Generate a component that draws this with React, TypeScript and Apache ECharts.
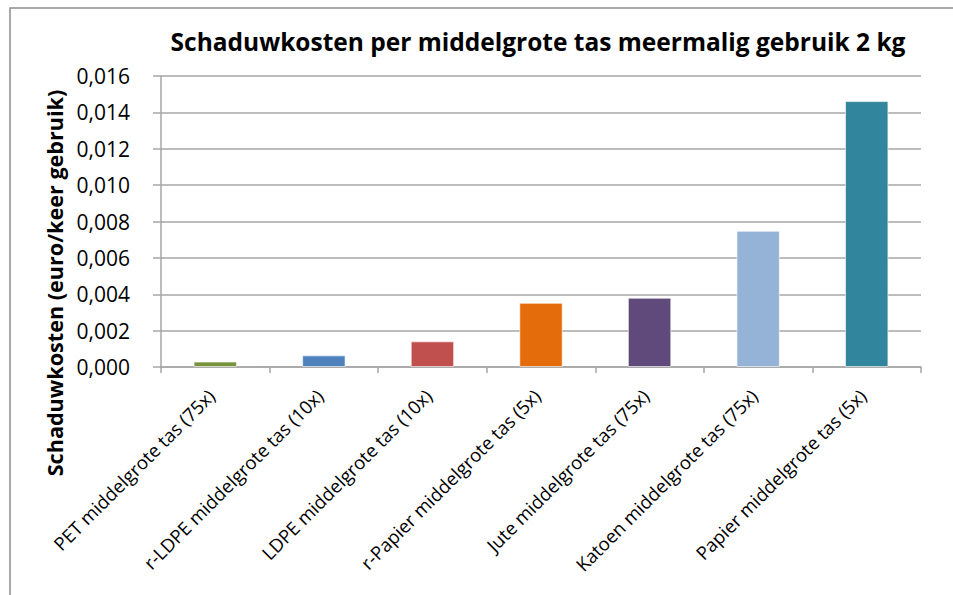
import React, { useEffect, useRef } from "react";
import * as echarts from "echarts";

const TITLE = "Schaduwkosten per middelgrote tas meermalig gebruik 2 kg";
const Y_NAME = "Schaduwkosten (euro/keer gebruik)";
const categories = [
  "PET middelgrote tas (75x)",
  "r-LDPE middelgrote tas (10x)",
  "LDPE middelgrote tas (10x)",
  "r-Papier middelgrote tas (5x)",
  "Jute middelgrote tas (75x)",
  "Katoen middelgrote tas (75x)",
  "Papier middelgrote tas (5x)",
];
const values = [0.0003, 0.00064, 0.00141, 0.00353, 0.00381, 0.00749, 0.01462];
const colors = ["#77933C", "#4F81BD", "#C0504D", "#E46C0A", "#604A7B", "#95B3D7", "#31859C"];
const Y_MIN = 0;
const Y_MAX = 0.016;
const Y_STEP = 0.002;

const FONT = "'Open Sans', sans-serif";

export default function App() {
  const ref = useRef<HTMLDivElement>(null);
  useEffect(() => {
    if (!ref.current) return;
    const chart = echarts.init(ref.current, undefined, { renderer: "svg" });
    chart.setOption({
      animation: false,
      backgroundColor: "#ffffff",
      textStyle: { fontFamily: FONT },
      title: {
        text: TITLE,
        left: 533,
        top: 24,
        textAlign: "center",
        textStyle: { fontFamily: FONT, fontSize: 24.5, fontWeight: "bold", color: "#000" },
      },
      graphic: [
        {
          type: "rect",
          shape: { x: 10, y: 8, width: 1200, height: 1200 },
          style: { fill: "none", stroke: "#8c8c8c", lineWidth: 1.5 },
          silent: true,
        },
        {
          type: "text",
          x: 54,
          y: 283,
          rotation: Math.PI / 2,
          style: {
            text: Y_NAME,
            fontFamily: FONT,
            fontSize: 21.6,
            fontWeight: "bold",
            fill: "#000",
            align: "center",
            verticalAlign: "middle",
          },
        },
      ],
      grid: { left: 161, right: 32, top: 76, bottom: 228, containLabel: false },
      xAxis: {
        type: "category",
        data: categories,
        boundaryGap: true,
        axisLine: { show: true, lineStyle: { color: "#a6a6a6", width: 1.5 } },
        axisTick: { show: true, alignWithLabel: false, length: 6, lineStyle: { color: "#a6a6a6", width: 1.5 } },
        axisLabel: {
          interval: 0,
          rotate: 45,
          margin: 21,
          padding: [0, 6, 0, 0],
          fontFamily: FONT,
          fontSize: 18.5,
          color: "#000",
        },
      },
      yAxis: {
        type: "value",
        min: Y_MIN,
        max: Y_MAX,
        interval: Y_STEP,
        axisLine: { show: true, lineStyle: { color: "#a6a6a6", width: 1.5 } },
        axisTick: { show: true, length: 8, lineStyle: { color: "#a6a6a6", width: 1.5 } },
        splitLine: { show: true, lineStyle: { color: "#a6a6a6", width: 1.5 } },
        axisLabel: {
          margin: 31,
          fontFamily: FONT,
          fontSize: 21,
          color: "#000",
          formatter: (v: number) => v.toFixed(3).replace(".", ","),
        },
      },
      series: [
        {
          type: "bar",
          barWidth: "40%",
          data: values.map((v, i) => ({
            value: v,
            itemStyle: { color: colors[i], borderColor: "rgba(255,255,255,0.6)", borderWidth: 1 },
          })),
        },
      ],
    });
    return () => chart.dispose();
  }, []);
  return (
    <div
      ref={ref}
      style={{ position: "absolute", left: 0, top: 0, width: 953, height: 595, background: "#fff" }}
    />
  );
}
